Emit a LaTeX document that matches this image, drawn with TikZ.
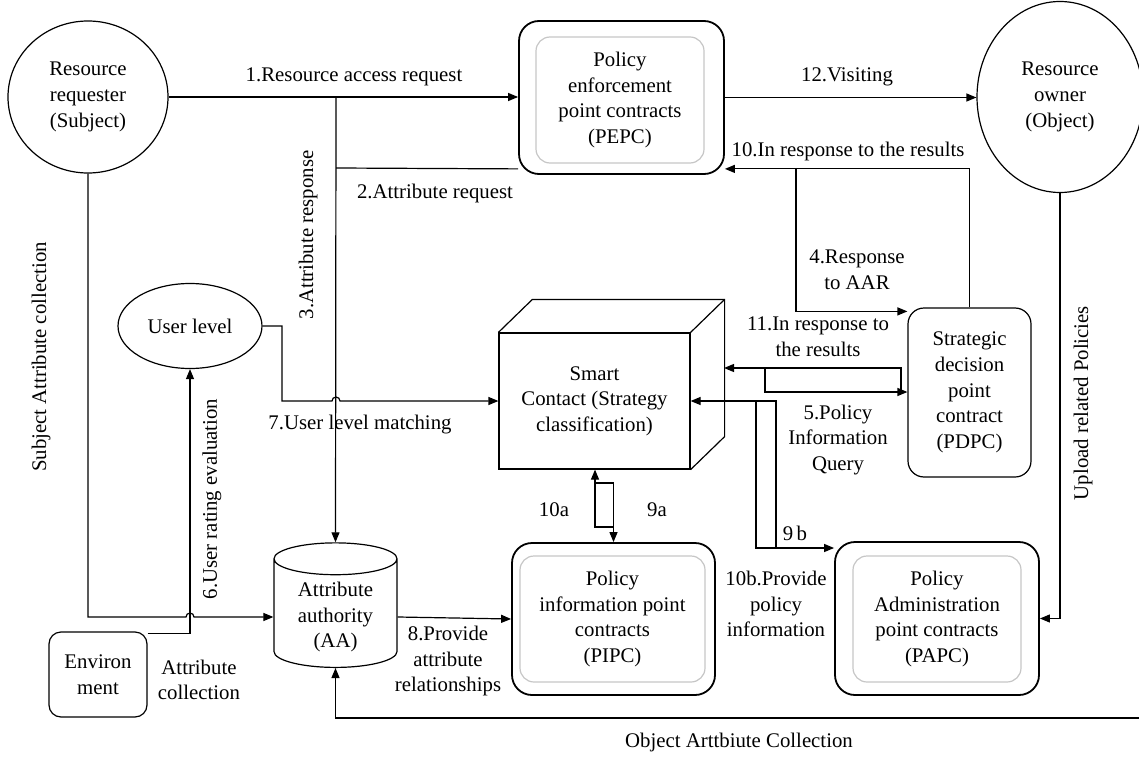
\documentclass[tikz,border=0pt]{standalone}
\usepackage{fontspec}
\setmainfont{Liberation Serif}
\usepackage{tikz}
\usetikzlibrary{shapes, arrows.meta, positioning}

\begin{document}
\begin{tikzpicture}[x=0.5pt, y=-0.5pt, line width=0.6pt,
    font=\fontsize{10.4}{12.8}\selectfont,
    arr/.style={-{Triangle[length=5pt, width=4pt]}},
    outerbox/.style={draw, rectangle, line width=0.9pt, rounded corners=10pt},
    innerbox/.style={draw=gray!45, rectangle, rounded corners=7pt, align=center}]
    \useasboundingbox (0,0) rectangle (1139,759);

    \node (req) [ellipse, draw, minimum width=80pt, minimum height=76pt, align=center] at (88,97) {Resource\\requester\\(Subject)};
    \node (own) [ellipse, draw, minimum width=83pt, minimum height=95.5pt, align=center] at (1060,97) {Resource\\owner\\(Object)};
    \node (pepc) [outerbox, minimum width=102.5pt, minimum height=76.5pt] at (621.5,97.5) {};
    \node (pepcin) [innerbox, minimum width=84pt, minimum height=63pt] at (620,100) {Policy\\enforcement\\point contracts\\(PEPC)};
    \node (pipc) [outerbox, minimum width=101.5pt, minimum height=76pt] at (613.5,619) {};
    \node (pipcin) [innerbox, minimum width=92.5pt, minimum height=63pt] at (612.5,619) {Policy\\information point\\contracts\\(PIPC)};
    \node (papc) [outerbox, minimum width=102pt, minimum height=76.5pt] at (937,618.5) {};
    \node (papcin) [innerbox, minimum width=84pt, minimum height=63pt] at (937,619) {Policy\\Administration\\point contracts\\(PAPC)};
    \node (pdpc) [draw, rectangle, rounded corners=8pt, minimum width=61.5pt, minimum height=84.5pt, align=center] at (969.5,392.5) {Strategic\\decision\\point\\contract\\(PDPC)};
    \node (smart) [draw, rectangle, minimum width=95.5pt, minimum height=68pt, align=center] at (594.5,401) {Smart\\Contact (Strategy\\classification)};
    \draw (smart.north west) -- ++(34,-33) -- ([shift={(34,-33)}]smart.north east) -- ([shift={(34,-33)}]smart.south east) -- (smart.south east);
    \draw (smart.north east) -- ++(34,-33);
    \node (aa) [cylinder, shape border rotate=90, draw, aspect=0.36, minimum width=61.5pt, minimum height=60.5pt, align=center] at (335.5,617) {Attribute\\authority\\(AA)};
    \node (ul) [ellipse, draw, minimum width=72pt, minimum height=42.5pt] at (190,326) {User level};
    \node (env) [draw, rectangle, rounded corners=6pt, minimum width=49pt, minimum height=42.5pt, align=center] at (98,674.5) {Environ\\ment};

    \coordinate (j1) at (336,97);
    \coordinate (j2) at (336,168);
    \coordinate (c4) at (796,168);
    \coordinate (p11) at (901,392);
    \coordinate (p5) at (765,368);
    \coordinate (sside) at (724,368);
    \coordinate (p9b) at (756,401);
    \coordinate (p10b) at (776,548);
    \coordinate (p9a) at (595,483);
    \coordinate (p10a) at (613,527);
    \coordinate (u1) at (282,401);
    \coordinate (hop1) at (332,401);
    \coordinate (hop2) at (186,617);
    \coordinate (objr) at (1139,718);

    \draw[arr] (req.east) -- (req.east -| pepc.west);
    \draw[arr] (j1) -- (aa.north);
    \draw ([yshift=3pt]pepc.south west) -- (j2);
    \draw[arr] (pepc.east) -- (pepc.east -| own.west);
    \draw[arr] (pdpc.north) |- ([yshift=3pt]pepc.south east);
    \draw[arr] (c4) |- ([yshift=-2pt]pdpc.north west);
    \draw[arr] (p11) |- (sside);
    \draw[arr] (p5) |- (pdpc.west |- p11);
    \draw[arr] (p10b) |- (smart.east);
    \draw[arr] (p9b) |- (papc.west |- p10b);
    \draw[arr] (p10a) -| (p9a |- smart.south);
    \draw[arr] (p9a) -| (pipc.north);
    \draw[arr] (ul.east) -| (u1) -- (hop1) arc[start angle=180, end angle=0, radius=2pt] -- (smart.west);
    \draw[arr] (req.south) |- (hop2) arc[start angle=180, end angle=0, radius=2pt] -- (aa.west);
    \draw[arr] ([yshift=-1pt]env.north east) -| (ul.south);
    \draw[arr] (aa.east) -- (pipc.west);
    \draw[arr] (objr) -| (aa.south);
    \draw[arr] (own.south) |- (papc.east);

    \node (lbl1) at (354,77) {1.Resource access request};
    \node (lbl2) at (435,193) {2.Attribute request};
    \node (lbl3) [rotate=90] at (308,235) {3.Attribute response};
    \node (lblsub) [rotate=90] at (41,357) {Subject Attribute collection};
    \node (lbl12) at (847,77) {12.Visiting};
    \node (lbl10) at (848,151) {10.In response to the results};
    \node (lbl4) [align=center] at (857,270) {4.Response\\to AAR};
    \node (lbl11) [align=center] at (818,337) {11.In response to\\the results};
    \node (lbl5) [align=center] at (838,440) {5.Policy\\Information\\Query};
    \node (lbl7) at (360,425) {7.User level matching};
    \node (lbl6) [rotate=90] at (212,499) {6.User rating evaluation};
    \node (lblenv) [align=center] at (199,680) {Attribute\\collection};
    \node (lbl8) [align=center] at (448,661) {8.Provide\\attribute\\relationships};
    \node (lbl10a) at (554,510) {10a};
    \node (lbl9a) at (657,510) {9a};
    \node (lbl9b) at (795,533) {9\,b};
    \node (lbl10b) [align=center] at (776,604) {10b.Provide\\policy\\information};
    \node (lblobj) at (739,742) {Object Arttbiute Collection};
    \node (lblup) [rotate=90] at (1083,403) {Upload related Policies};
\end{tikzpicture}
\end{document}
